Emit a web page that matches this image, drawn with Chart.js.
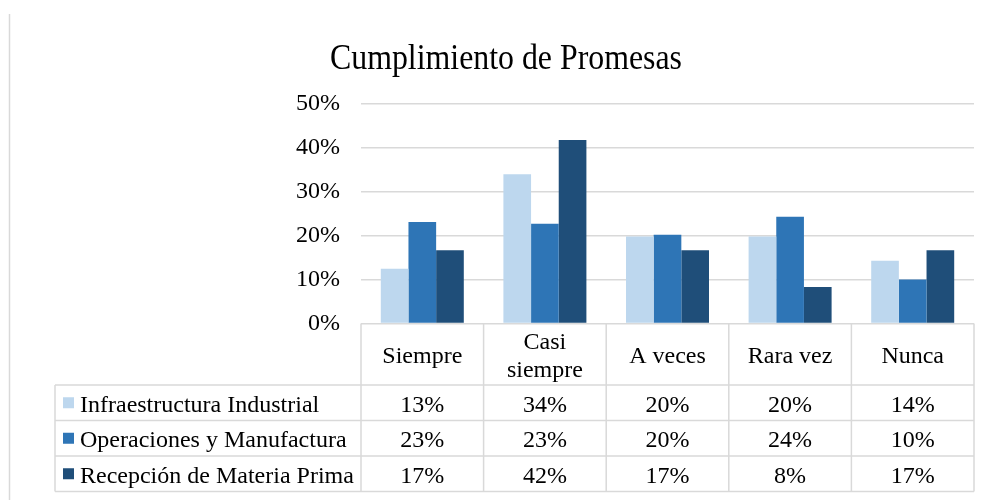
<!DOCTYPE html>
<html>
<head>
<meta charset="utf-8">
<script src="https://cdn.jsdelivr.net/npm/chart.js@4/dist/chart.umd.min.js"></script>
<style>
html,body{margin:0;padding:0;background:#fff;}
#wrap{position:relative;width:989px;height:500px;}
</style>
</head>
<body>
<div id="wrap"><canvas id="c" width="989" height="500"></canvas></div>
<script>
const chartTitle = 'Cumplimiento de Promesas';
const categories = ['Siempre', ['Casi', 'siempre'], 'A veces', 'Rara vez', 'Nunca'];
const seriesNames = ['Infraestructura Industrial', 'Operaciones y Manufactura', 'Recepción de Materia Prima'];
const infraestructura = [12.5, 34.0, 19.8, 19.8, 14.3];
const operaciones = [23.1, 22.7, 20.2, 24.3, 10.0];
const recepcion = [16.7, 41.8, 16.7, 8.3, 16.7];
const yTicks = [0, 10, 20, 30, 40, 50];
const colors = ['#BDD7EE', '#2E75B6', '#1F4E79'];

const FONT = "'Liberation Serif', 'Times New Roman', serif";
const GRID = '#d9d9d9';

function drawText(ctx, s, x, y, size, align, targetWidth) {
  ctx.save();
  ctx.font = size + 'px ' + FONT;
  ctx.textAlign = align;
  ctx.textBaseline = 'alphabetic';
  let sx = 1;
  if (targetWidth) sx = targetWidth / ctx.measureText(s).width;
  ctx.translate(x, y);
  ctx.scale(sx, 1);
  ctx.fillText(s, 0, 0);
  ctx.restore();
}

const tablePlugin = {
  id: 'dataTable',
  afterDraw(chart) {
    const ctx = chart.ctx;
    const x = chart.scales.x;
    const area = chart.chartArea;
    const n = categories.length;
    const step = (area.right - area.left) / n;
    const colEdges = [];
    for (let i = 0; i <= n; i++) colEdges.push(area.left + step * i);
    const top = area.bottom;
    const headerBottom = top + 61.5;
    const rowH = 35.5;
    const rows = [headerBottom, headerBottom + rowH, headerBottom + rowH * 2, headerBottom + rowH * 3];
    const legendLeft = 55;

    ctx.save();
    ctx.strokeStyle = GRID;
    ctx.lineWidth = 1.5;
    ctx.beginPath();
    ctx.moveTo(9.5, 14);
    ctx.lineTo(9.5, 500);
    ctx.stroke();

    ctx.fillStyle = '#000';
    drawText(ctx, chartTitle, 506, 69, 36, 'center', 352);

    ctx.strokeStyle = GRID;
    ctx.lineWidth = 1.5;
    ctx.beginPath();
    colEdges.forEach(cx => { ctx.moveTo(cx, top); ctx.lineTo(cx, rows[3]); });
    ctx.moveTo(legendLeft, rows[0]); ctx.lineTo(legendLeft, rows[3]);
    rows.forEach(ry => { ctx.moveTo(legendLeft, ry); ctx.lineTo(area.right, ry); });
    ctx.stroke();

    ctx.fillStyle = '#000';
    categories.forEach((c, i) => {
      const cx = x.getPixelForValue(i);
      const midY = (top + headerBottom) / 2;
      if (Array.isArray(c)) {
        const lh = 28;
        c.forEach((line, k) => {
          drawText(ctx, line, cx, midY + 9 + (k - (c.length - 1) / 2) * lh, 24, 'center');
        });
      } else {
        drawText(ctx, c, cx, midY + 9, 24, 'center');
      }
    });

    chart.data.datasets.forEach((ds, r) => {
      const cy = (rows[r] + rows[r + 1]) / 2;
      ctx.fillStyle = ds.backgroundColor;
      ctx.fillRect(63, cy - 5.5, 11, 11);
      ctx.fillStyle = '#000';
      drawText(ctx, ds.label, 80, cy + 9, 24, 'left');
      ds.data.forEach((v, i) => {
        drawText(ctx, Math.round(v) + '%', x.getPixelForValue(i), cy + 9, 24, 'center');
      });
    });
    ctx.restore();
  }
};

new Chart(document.getElementById('c'), {
  type: 'bar',
  data: {
    labels: categories,
    datasets: [
      { label: seriesNames[0], data: infraestructura, backgroundColor: colors[0] },
      { label: seriesNames[1], data: operaciones, backgroundColor: colors[1] },
      { label: seriesNames[2], data: recepcion, backgroundColor: colors[2] }
    ]
  },
  options: {
    responsive: false,
    animation: false,
    devicePixelRatio: 1,
    layout: { padding: { left: 0, right: 15, top: 104, bottom: 176.5 } },
    datasets: { bar: { barPercentage: 1, categoryPercentage: 0.677 } },
    plugins: {
      legend: { display: false },
      title: { display: false },
      tooltip: { enabled: false }
    },
    scales: {
      x: {
        display: false,
        grid: { display: false }
      },
      y: {
        min: 0,
        max: 50,
        afterFit(s) { s.width = 361; },
        afterBuildTicks(s) { s.ticks = yTicks.map(v => ({ value: v })); },
        ticks: {
          stepSize: 10,
          padding: 21,
          color: '#000',
          font: { family: FONT, size: 24 },
          callback: v => v + '%'
        },
        grid: { color: GRID, lineWidth: 1.5, drawTicks: false },
        border: { display: false }
      }
    }
  },
  plugins: [tablePlugin]
});
</script>
</body>
</html>
